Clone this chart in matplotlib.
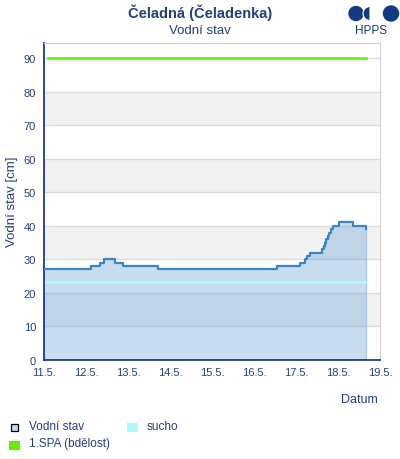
import pandas as pd
import numpy as np
import matplotlib
matplotlib.use("Agg")
import matplotlib.pyplot as plt
import matplotlib.dates as mdates
from matplotlib import patches

plt.rcParams['font.family'] = ['Liberation Sans', 'DejaVu Sans']

# vodni stav - zmeny hladiny (cas, cm)
casy = ["2024-05-11 00:00", "2024-05-12 02:30", "2024-05-12 07:30", "2024-05-12 10:00",
        "2024-05-12 16:20", "2024-05-12 21:10", "2024-05-13 16:50", "2024-05-16 12:45",
        "2024-05-17 02:20", "2024-05-17 04:40", "2024-05-17 06:10", "2024-05-17 08:00",
        "2024-05-17 14:30", "2024-05-17 15:30", "2024-05-17 16:20", "2024-05-17 17:10",
        "2024-05-17 18:00", "2024-05-17 18:45", "2024-05-17 19:30", "2024-05-17 20:40",
        "2024-05-18 00:05", "2024-05-18 08:30", "2024-05-18 15:30"]
stav = [27, 28, 29, 30, 29, 28, 27, 28, 29, 30, 31, 32, 33, 34, 35, 36, 37, 38, 39, 40,
        41, 40, 39]

sucho = 23.3
spa1 = 90

x_start = "2024-05-11"
x_end = "2024-05-19"

modra_txt = "#22407e"

t = pd.to_datetime(casy)

fig = plt.figure(figsize=(4, 4.6), dpi=100)
ax = fig.add_axes([0.111, 0.2152, 0.84, 0.6885])

# sede pasy
for y0 in range(10, 90, 20):
    ax.axhspan(y0, y0 + 10, color="#f2f2f2", lw=0, zorder=0)
for y0 in range(10, 100, 10):
    ax.axhline(y0, color="#dddddd", lw=1, zorder=0.5)

ax.fill_between(t, stav, 0, step="post", color="#4a90d0", alpha=0.3, lw=0, zorder=1)
ax.plot([t[-1], t[-1]], [0, stav[-1]], color="#a9cbe8", lw=1, zorder=1)
ax.plot(t, stav, drawstyle="steps-post", color="#3a87c6", lw=1.6, zorder=3)

ax.plot([t[0], t[-1]], [sucho, sucho], color="#aefcf6", lw=1.8, zorder=2)
ax.plot([t[0] + pd.Timedelta(hours=2), t[-1]], [spa1, spa1], color="#66ee00", lw=1.8, zorder=2)

ax.set_xlim(pd.Timestamp(x_start), pd.Timestamp(x_end))
ax.set_ylim(0, 94.4)
ax.set_yticks(range(0, 100, 10))
ax.xaxis.set_major_locator(mdates.DayLocator())
ax.xaxis.set_major_formatter(mdates.DateFormatter("%-d.%-m."))
ax.tick_params(length=0, labelsize=8, labelcolor=modra_txt)
ax.tick_params(axis="y", pad=6)
ax.tick_params(axis="x", pad=5)

for s in ["top", "right"]:
    ax.spines[s].set_color("#d0d0d0")
for s in ["left", "bottom"]:
    ax.spines[s].set_color("#1a3a8a")
    ax.spines[s].set_linewidth(1.3)

# texty a legenda v pixelech
ov = fig.add_axes([0, 0, 1, 1], zorder=-1)
ov.set_xlim(0, 400)
ov.set_ylim(460, 0)
ov.axis("off")

ov.text(200, 13, "Čeladná (Čeladenka)", ha="center", va="center", fontsize=10.5,
        fontweight="bold", color=modra_txt)
ov.text(200, 31, "Vodní stav", ha="center", va="center", fontsize=9.5, color=modra_txt)
ov.text(12, 202, "Vodní stav [cm]", ha="center", va="center", rotation=90,
        fontsize=9.5, color=modra_txt)
ov.text(378, 400, "Datum", ha="right", va="center", fontsize=9, color=modra_txt)

# logo
logo = "#143a82"
ov.add_patch(patches.Circle((356, 14.5), 7, color=logo))
ov.add_patch(patches.Wedge((370, 14.5), 7, 90, 270, facecolor=logo, edgecolor="white", lw=0.8))
ov.add_patch(patches.Circle((391, 14.5), 7.5, color=logo))
ov.text(371, 31, "HPPS", ha="center", va="center", fontsize=8.5, color=logo)

ov.add_patch(patches.Rectangle((11, 425), 7, 7, facecolor="#c5dcf0", edgecolor="black", lw=0.9))
ov.text(29, 427.5, "Vodní stav", ha="left", va="center", fontsize=8.5, color=modra_txt)
ov.add_patch(patches.Rectangle((127, 424), 11, 9, facecolor="#b0f8f6", lw=0))
ov.text(147, 427.5, "sucho", ha="left", va="center", fontsize=8.5, color=modra_txt)
ov.add_patch(patches.Rectangle((9, 442), 11, 9, facecolor="#66ee00", lw=0))
ov.text(29, 444.5, "1.SPA (bdělost)", ha="left", va="center", fontsize=8.5, color=modra_txt)

fig.savefig("out.png", dpi=100)
